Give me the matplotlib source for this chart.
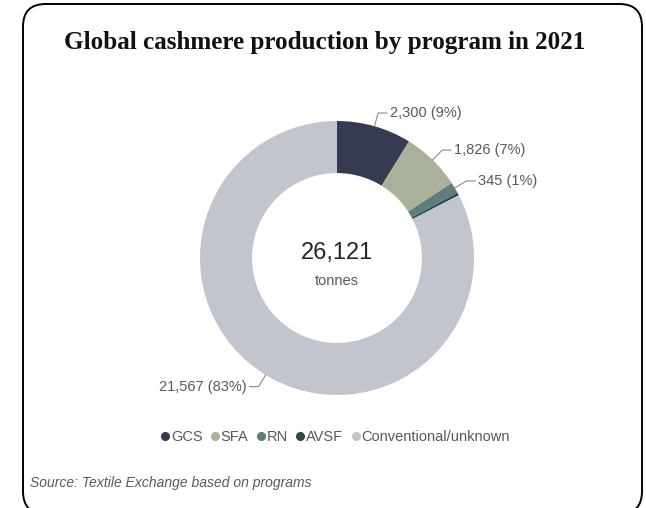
import numpy as np
import matplotlib.pyplot as plt
from matplotlib.patches import FancyBboxPatch
from matplotlib.lines import Line2D

# data
programs = ['GCS', 'SFA', 'RN', 'AVSF', 'Conventional/unknown']
tonnes = [2300, 1826, 345, 83, 21567]
colors = ['#363b51', '#a9b19b', '#5f7d7d', '#2c4a45', '#c2c4ce']
labels = ['2,300 (9%)', '1,826 (7%)', '345 (1%)', None, '21,567 (83%)']
total_label = '26,121'

text_grey = '#595959'

fig = plt.figure(figsize=(6.46, 5.08), dpi=100)
W, H = 646, 508

# rounded card border
card = FancyBboxPatch((23 / W, -6 / H), 619 / W, 510 / H,
                      boxstyle='round,pad=0,rounding_size=0.035',
                      transform=fig.transFigure, fill=False,
                      edgecolor='black', linewidth=1.4, mutation_aspect=W / H)
fig.patches.append(card)

fig.text(0.503, 1 - 42 / H, 'Global cashmere production by program in 2021',
         ha='center', va='center', fontsize=18.1, fontweight='bold',
         family='Liberation Serif', color='#111111')

# donut axes: centre (337, 258) px, radius 137 px
cx, cy, r = 337, 258, 137
ax = fig.add_axes([(cx - r) / W, (H - cy - r) / H, 2 * r / W, 2 * r / H])
wedges, _ = ax.pie(tonnes, colors=colors, startangle=90, counterclock=False,
                   radius=1, wedgeprops=dict(width=0.38, linewidth=0))
ax.set_xlim(-1, 1)
ax.set_ylim(-1, 1)
ax.axis('off')

for w, lab in zip(wedges, labels):
    if lab is None:
        continue
    ang = np.deg2rad((w.theta1 + w.theta2) / 2)
    x0, y0 = np.cos(ang), np.sin(ang)
    x1, y1 = 1.1 * x0, 1.1 * y0
    side = 1 if x0 > 0 else -1
    x2 = x1 + side * 0.065
    ax.plot([x0, x1, x2], [y0, y1, y1], color='#8c8c8c', lw=0.8,
            clip_on=False)
    ax.text(x2 + side * 0.02, y1, lab, ha='left' if side > 0 else 'right',
            va='center', fontsize=10.5, color=text_grey,
            family='Liberation Sans')

ax.text(0, 0.04, total_label, ha='center', va='center', fontsize=17,
        color='#262626', family='Liberation Sans')
ax.text(0, -0.17, 'tonnes', ha='center', va='center', fontsize=10.5,
        color=text_grey, family='Liberation Sans')

handles = [Line2D([], [], marker='o', linestyle='none', markersize=5.5,
                  markerfacecolor=c, markeredgecolor=c) for c in colors]
fig.legend(handles, programs, loc='center', ncol=5,
           bbox_to_anchor=(0.517, 1 - 437 / H), frameon=False,
           handletextpad=-0.1, columnspacing=0.35, handlelength=1.0,
           prop={'family': 'Liberation Sans', 'size': 10.5},
           labelcolor=text_grey)

fig.text(30 / W, 1 - 483 / H, 'Source: Textile Exchange based on programs',
         ha='left', va='center', fontsize=10, style='italic',
         color=text_grey, family='Liberation Sans')

fig.savefig('out.png', dpi=100)
